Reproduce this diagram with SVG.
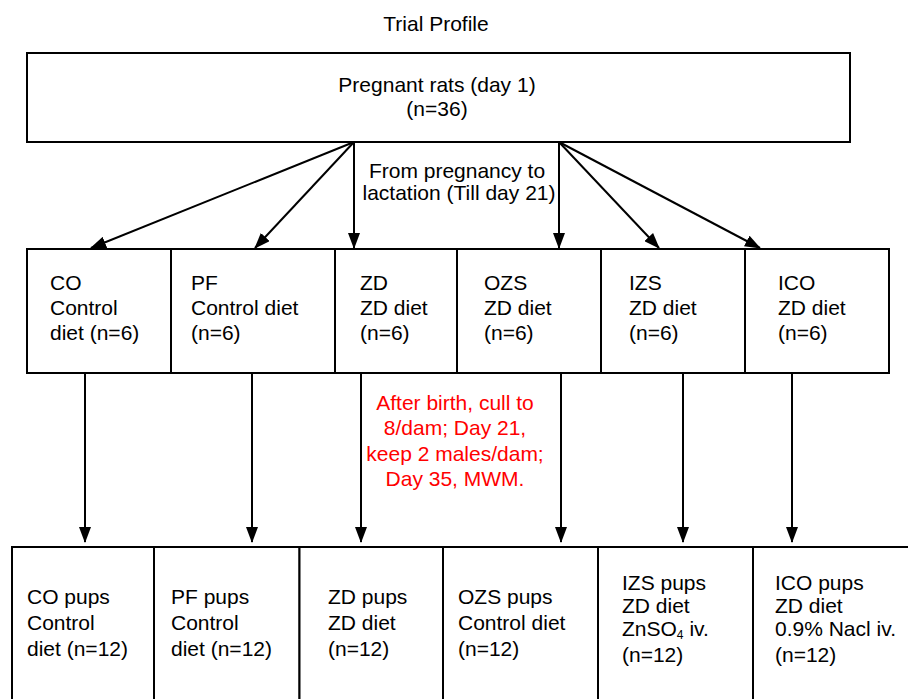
<svg xmlns="http://www.w3.org/2000/svg" width="908" height="699" viewBox="0 0 908 699">
<style>
text{font-family:"Liberation Sans",Arial,Helvetica,sans-serif;font-size:21px;fill:#000}
.c{text-anchor:middle}
.red{fill:#ff0000}
.box{fill:#fff;stroke:#000;stroke-width:2}
.ln{stroke:#000;stroke-width:2;fill:none;marker-end:url(#ah)}
</style>
<defs>
<marker id="ah" viewBox="0 0 16 12" refX="15" refY="6" markerWidth="16" markerHeight="12" markerUnits="userSpaceOnUse" orient="auto">
<path d="M0,0 L16,6 L0,12 Z" fill="#000"/>
</marker>
</defs>
<rect width="908" height="699" fill="#fff"/>
<text id="title" class="c" x="436" y="31">Trial Profile</text>

<g id="top">
<rect class="box" x="27" y="53" width="823" height="89"/>
<text class="c" x="437" y="92">Pregnant rats (day 1)</text>
<text class="c" x="437" y="116">(n=36)</text>
</g>

<g id="connectors">
<line class="ln" x1="354" y1="142" x2="91" y2="248"/>
<line class="ln" x1="354" y1="142" x2="255" y2="248"/>
<line class="ln" x1="354" y1="142" x2="354" y2="248"/>
<line class="ln" x1="559" y1="142" x2="559" y2="248"/>
<line class="ln" x1="559" y1="142" x2="659" y2="248"/>
<line class="ln" x1="559" y1="142" x2="760" y2="248"/>
<line class="ln" x1="85" y1="373" x2="85" y2="542"/>
<line class="ln" x1="252" y1="373" x2="252" y2="542"/>
<line class="ln" x1="361" y1="373" x2="361" y2="542"/>
<line class="ln" x1="561" y1="373" x2="561" y2="542"/>
<line class="ln" x1="683" y1="373" x2="683" y2="542"/>
<line class="ln" x1="792" y1="373" x2="792" y2="542"/>
</g>
<text id="lbl-preg" class="c" x="457" y="178">From pregnancy to</text>
<text id="lbl-preg2" class="c" x="459" y="200">lactation (Till day 21)</text>

<g id="lbl-birth">
<text class="c red" x="455" y="410">After birth, cull to</text>
<text class="c red" x="455" y="435">8/dam; Day 21,</text>
<text class="c red" x="455" y="461">keep 2 males/dam;</text>
<text class="c red" x="455" y="486">Day 35, MWM.</text>
</g>

<g id="CO">
<rect class="box" x="27" y="249" width="144" height="124"/>
<text x="50" y="290">CO</text><text x="50" y="315">Control</text><text x="50" y="340">diet (n=6)</text>
</g>
<g id="PF">
<rect class="box" x="171" y="249" width="164" height="124"/>
<text x="191" y="290">PF</text><text x="191" y="315">Control diet</text><text x="191" y="340">(n=6)</text>
</g>
<g id="ZD">
<rect class="box" x="335" y="249" width="122" height="124"/>
<text x="360" y="290">ZD</text><text x="360" y="315">ZD diet</text><text x="360" y="340">(n=6)</text>
</g>
<g id="OZS">
<rect class="box" x="457" y="249" width="144" height="124"/>
<text x="484" y="290">OZS</text><text x="484" y="315">ZD diet</text><text x="484" y="340">(n=6)</text>
</g>
<g id="IZS">
<rect class="box" x="601" y="249" width="144" height="124"/>
<text x="629" y="290">IZS</text><text x="629" y="315">ZD diet</text><text x="629" y="340">(n=6)</text>
</g>
<g id="ICO">
<rect class="box" x="745" y="249" width="144" height="124"/>
<text x="778" y="290">ICO</text><text x="778" y="315">ZD diet</text><text x="778" y="340">(n=6)</text>
</g>

<g id="CO-pups">
<rect class="box" x="12" y="547" width="142" height="170"/>
<text x="27" y="604">CO pups</text><text x="27" y="630">Control</text><text x="27" y="656">diet (n=12)</text>
</g>
<g id="PF-pups">
<rect class="box" x="154" y="547" width="145.5" height="170"/>
<text x="171" y="604">PF pups</text><text x="171" y="630">Control</text><text x="171" y="656">diet (n=12)</text>
</g>
<g id="ZD-pups">
<rect class="box" x="299.5" y="547" width="143.5" height="170"/>
<text x="328" y="604">ZD pups</text><text x="328" y="630">ZD diet</text><text x="328" y="656">(n=12)</text>
</g>
<g id="OZS-pups">
<rect class="box" x="443" y="547" width="155" height="170"/>
<text x="458" y="604">OZS pups</text><text x="458" y="630">Control diet</text><text x="458" y="656">(n=12)</text>
</g>
<g id="IZS-pups">
<rect class="box" x="598" y="547" width="155" height="170"/>
<text x="622" y="590">IZS pups</text><text x="622" y="613">ZD diet</text><text x="622" y="636">ZnSO<tspan font-size="12" dy="3">4</tspan><tspan dy="-3"> iv.</tspan></text><text x="622" y="662">(n=12)</text>
</g>
<g id="ICO-pups">
<rect class="box" x="753" y="547" width="170" height="170"/>
<text x="775" y="590">ICO pups</text><text x="775" y="613">ZD diet</text><text x="775" y="636">0.9% Nacl iv.</text><text x="775" y="662">(n=12)</text>
</g>
</svg>
